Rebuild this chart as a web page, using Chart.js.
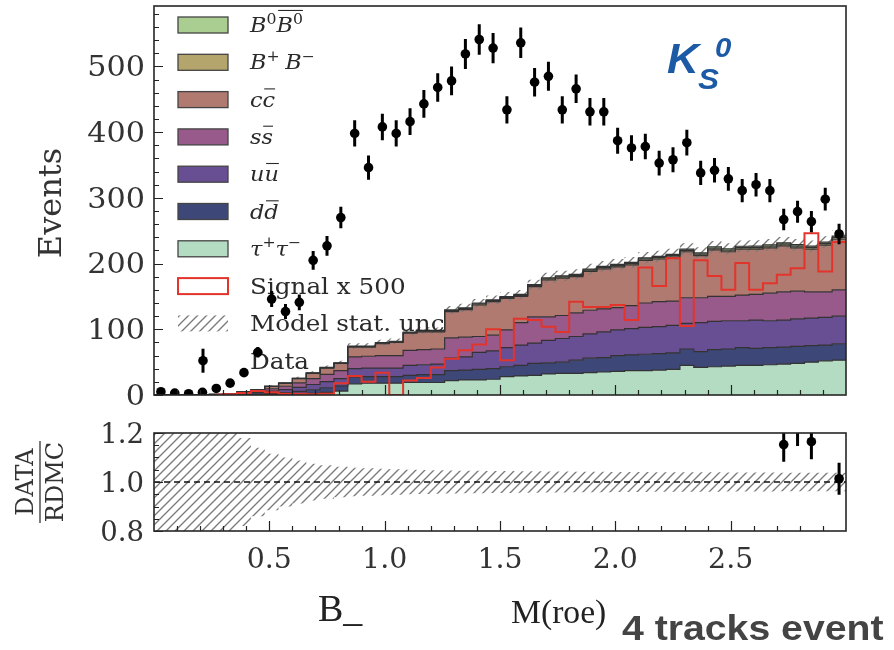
<!DOCTYPE html>
<html>
<head>
<meta charset="utf-8">
<title>M(roe) – 4 tracks event</title>
<script src="https://cdn.jsdelivr.net/npm/chart.js@4.4.1/dist/chart.umd.min.js"></script>
<style>
  html, body { margin: 0; padding: 0; background: #ffffff; }
  #wrap { position: relative; width: 894px; height: 650px; overflow: hidden; background: #ffffff; }
  canvas { position: absolute; left: 0; }
  #main { top: 0; width: 894px; height: 420px; }
  #ratio { top: 400px; width: 894px; height: 250px; }
</style>
</head>
<body>
<div id="wrap">
  <canvas id="main" width="894" height="420"></canvas>
  <canvas id="ratio" width="894" height="250"></canvas>
</div>
<script>
// ---------------- data ----------------
// bin centres of M(roe), 50 bins of width 0.06 on [0, 3]
const binCenters = [0.03,0.09,0.15,0.21,0.27,0.33,0.39,0.45,0.51,0.57,
                    0.63,0.69,0.75,0.81,0.87,0.93,0.99,1.05,1.11,1.17,
                    1.23,1.29,1.35,1.41,1.47,1.53,1.59,1.65,1.71,1.77,
                    1.83,1.89,1.95,2.01,2.07,2.13,2.19,2.25,2.31,2.37,
                    2.43,2.49,2.55,2.61,2.67,2.73,2.79,2.85,2.91,2.97];
const xRange = [0, 3];

// stacked MC components (events per bin), bottom to top
const tauTau = [0,0,0,0,0,0,0,0.2,0.5,0.8, 1.5,2.5,4,6,17,18,18,18,19,19,
                19,22,23,23,24,28,29,30,32,33, 33,34,35,36,37,37,38,39,45,42,
                43,44,45,45,46,47,48,50,52,53];
const dDbar  = [0,0,0,0,0,0.3,0.8,1.3,2,3, 4,5.5,7,8,10,10,10,10,11,12,
                12,15,15,16,16,15,16,18,17,17, 20,22,22,24,24,25,25,25,25,24,
                26,26,27,26,26,26,26,25,24,25];
const uUbar  = [0,0,0,0,0.2,0.5,1.2,2,3.5,4.5, 6,8,9.5,11,13,13,13,13,15,15,
                16,19,20,26,27,29,31,31,34,36, 36,37,39,39,40,41,41,42,39,44,
                43,43,41,43,41,41,42,42,42,42];
const sSbar  = [0,0,0,0,0.3,0.6,1.5,2.3,3.5,5, 7,9,11,12,18,18,19,19,23,23,
                23,31,30,24,24,27,34,40,36,35, 36,36,35,34,35,37,38,37,39,38,
                38,37,39,39,42,43,42,40,39,40];
const cCbar  = [0,0,0,0,0.5,0.6,1.5,2.2,3.5,4.7, 6.5,8,9.5,11,15,14,18,20,26,27,
                26,40,42,48,51,48,40,46,56,57, 55,59,61,62,62,65,65,67,70,64,
                71,68,70,69,69,70,66,65,71,77];
const bPlusMinus = [0,0,0,0,0,0,0,0,0,0, 0.3,0.4,0.5,0.6,0.8,0.8,1.0,1.0,1.0,1.2,
                    1.2,1.3,1.4,1.5,1.5,1.6,1.6,1.7,1.8,1.8, 1.9,2.0,2.0,2.0,2.1,2.1,2.2,2.2,2.2,2.3,
                    2.3,2.3,2.4,2.4,2.4,2.5,2.5,2.5,2.5,2.6];
const bZeroBar   = [0,0,0,0,0,0,0,0,0,0, 0.2,0.3,0.4,0.5,0.6,0.7,0.8,0.8,0.9,1.0,
                    1.0,1.1,1.2,1.2,1.3,1.3,1.4,1.4,1.5,1.5, 1.6,1.6,1.7,1.7,1.8,1.8,1.8,1.9,1.9,1.9,
                    2.0,2.0,2.0,2.1,2.1,2.1,2.2,2.2,2.2,2.2];

// relative MC statistical uncertainty per bin
const mcRelUnc = [0.5,0.5,0.5,0.5,0.5,0.22,0.18,0.14,0.115,0.1,
                  0.088,0.075,0.068,0.062,0.058,0.056,0.054,0.052,0.05,0.049,
                  0.048,0.047,0.046,0.046,0.045,0.045,0.044,0.044,0.043,0.043,
                  0.042,0.042,0.042,0.041,0.041,0.041,0.04,0.04,0.04,0.04,
                  0.04,0.039,0.039,0.039,0.039,0.038,0.038,0.038,0.038,0.038];

// signal (scaled x500), outline only
const signalX500 = [null,null,null,null,0.5,1,3,6,4,2, 2,1,2,18,29,20,34,0,22,26,
                    42,55,68,77,100,53,116,114,104,96, 142,134,134,137,114,194,166,208,105,205,
                    181,160,201,160,170,183,193,246,188,233];

// observed data and its uncertainty
const dataCounts = [5,3,2,4,10,18,34,65,146,127, 141,205,227,270,398,346,408,398,416,443,
                    468,478,519,541,528,434,536,476,485,434, 466,431,431,387,376,378,353,358,384,338,
                    342,329,311,320,311,267,279,264,298,245];
const dataErr    = [2.2,1.7,1.4,2,3.2,4.2,5.8,8.1,12.1,11.3, 11.9,14.3,15.1,16.4,20,18.6,20.2,20,20.4,21,
                    21.6,21.9,22.8,23.3,23,20.8,23.2,21.8,22,20.8, 21.6,20.8,20.8,19.7,19.4,19.4,18.8,18.9,19.6,18.4,
                    18.5,18.1,17.6,17.9,17.6,16.3,16.7,16.2,17.3,15.7];

// axis ticks
const eventTicks = [0, 100, 200, 300, 400, 500];
const ratioTicks = [0.8, 1.0, 1.2];
const ratioTickLabels = ['0.8', '1.0', '1.2'];
const massTicks = [0.5, 1.0, 1.5, 2.0, 2.5];
const massTickLabels = ['0.5', '1.0', '1.5', '2.0', '2.5'];

// ---------------- styling ----------------
const COLORS = {
  tau: '#b4dcc3', dd: '#3e4878', uu: '#684e92', ss: '#985a8a',
  cc: '#b07a70', bpm: '#b4a56c', b0: '#aacd91', signal: '#e3342c', edge: '#333333'
};
const SERIF = '"DejaVu Serif", serif';
const TEXT_SX = 1.12;      // horizontal text stretch
const TEXT_COLOR = '#2a2a2a';

function makeHatch(color, s, lw) {
  const c = document.createElement('canvas');
  c.width = s; c.height = s;
  const g = c.getContext('2d');
  g.strokeStyle = color; g.lineWidth = lw; g.lineCap = 'square';
  g.beginPath();
  g.moveTo(0, s); g.lineTo(s, 0);
  g.moveTo(-1, 1); g.lineTo(1, -1);
  g.moveTo(s - 1, s + 1); g.lineTo(s + 1, s - 1);
  g.stroke();
  return g.createPattern(c, 'repeat');
}
const HATCH = makeHatch('#7a7a7a', 9, 1.35);

// histogram outline points (step drawn through bin centres, padded to the axis edges)
function stepPoints(vals) {
  const pts = [{ x: xRange[0], y: vals[0] }];
  vals.forEach((v, i) => pts.push({ x: binCenters[i], y: v }));
  pts.push({ x: xRange[1], y: vals[vals.length - 1] });
  return pts;
}

// cumulative stack
const layers = [tauTau, dDbar, uUbar, sSbar, cCbar, bPlusMinus, bZeroBar];
const cumul = [];
let running = binCenters.map(() => 0);
layers.forEach(arr => { running = running.map((v, i) => v + arr[i]); cumul.push(running.slice()); });
const mcTotal = cumul[cumul.length - 1];
const uncHigh = mcTotal.map((t, i) => t * (1 + mcRelUnc[i]));
const uncLow  = mcTotal.map((t, i) => t * (1 - mcRelUnc[i]));

const ratioVals = dataCounts.map((d, i) => mcTotal[i] > 0 ? d / mcTotal[i] : null);
const ratioErr  = dataErr.map((e, i) => mcTotal[i] > 0 ? e / mcTotal[i] : null);

// ---------------- text helpers ----------------
function sText(ctx, str, x, y, font, color, align, sx) {
  ctx.save();
  ctx.translate(x, y);
  ctx.scale(sx || TEXT_SX, 1);
  ctx.font = font; ctx.fillStyle = color || TEXT_COLOR;
  ctx.textAlign = align || 'left'; ctx.textBaseline = 'alphabetic';
  ctx.fillText(str, 0, 0);
  ctx.restore();
}

function drawRich(ctx, parts, x, base, size) {
  ctx.save();
  ctx.translate(x, base); ctx.scale(TEXT_SX, 1);
  ctx.fillStyle = TEXT_COLOR; ctx.strokeStyle = TEXT_COLOR;
  ctx.textBaseline = 'alphabetic'; ctx.textAlign = 'left';
  let cx = 0, barL = null, barR = 0, barTop = 0;
  for (const p of parts) {
    const small = p.sup || p.sub;
    const fs = small ? size * 0.7 : size;
    ctx.font = (p.it ? 'italic ' : '') + fs + 'px ' + SERIF;
    const dy = p.sup ? -size * 0.42 : (p.sub ? size * 0.22 : 0);
    ctx.fillText(p.t, cx, dy);
    const w = ctx.measureText(p.t).width;
    if (p.bar) {
      if (barL === null) barL = cx;
      barR = cx + w;
      barTop = Math.min(barTop, dy - fs * 0.76);
    }
    cx += w + (p.gap || 0);
  }
  if (barL !== null) {
    ctx.lineWidth = 1.1;
    ctx.beginPath(); ctx.moveTo(barL + 1.5, barTop - 2.5); ctx.lineTo(barR, barTop - 2.5); ctx.stroke();
  }
  ctx.restore();
}

// ---------------- legend ----------------
const legendEntries = [
  { kind: 'patch', color: COLORS.b0,  parts: [{t:'B',it:1},{t:'0',sup:1},{t:'B',it:1,bar:1},{t:'0',sup:1,bar:1}] },
  { kind: 'patch', color: COLORS.bpm, parts: [{t:'B',it:1},{t:'+',sup:1,gap:5},{t:'B',it:1},{t:'\u2212',sup:1}] },
  { kind: 'patch', color: COLORS.cc,  parts: [{t:'c',it:1},{t:'c',it:1,bar:1}] },
  { kind: 'patch', color: COLORS.ss,  parts: [{t:'s',it:1},{t:'s',it:1,bar:1}] },
  { kind: 'patch', color: COLORS.uu,  parts: [{t:'u',it:1},{t:'u',it:1,bar:1}] },
  { kind: 'patch', color: COLORS.dd,  parts: [{t:'d',it:1},{t:'d',it:1,bar:1}] },
  { kind: 'patch', color: COLORS.tau, parts: [{t:'\u03c4',it:1},{t:'+',sup:1},{t:'\u03c4',it:1},{t:'\u2212',sup:1}] },
  { kind: 'signal', text: 'Signal x 500' },
  { kind: 'hatch',  text: 'Model stat. unc' },
  { kind: 'data',   text: 'Data' }
];

function drawLegend(ctx) {
  const x0 = 178, w = 50, h = 16, tx = 250, top = 25, step = 37.3;
  legendEntries.forEach((e, k) => {
    const cy = top + k * step;
    ctx.save();
    if (e.kind === 'patch') {
      ctx.fillStyle = e.color; ctx.fillRect(x0, cy - h / 2, w, h);
      ctx.strokeStyle = '#444'; ctx.lineWidth = 1.3; ctx.strokeRect(x0, cy - h / 2, w, h);
      ctx.restore();
      drawRich(ctx, e.parts, tx, cy + 7, 20);
      return;
    }
    if (e.kind === 'signal') {
      ctx.fillStyle = '#fff'; ctx.fillRect(x0, cy - h / 2, w, h);
      ctx.strokeStyle = COLORS.signal; ctx.lineWidth = 2; ctx.strokeRect(x0, cy - h / 2, w, h);
    } else if (e.kind === 'hatch') {
      ctx.fillStyle = HATCH; ctx.fillRect(x0, cy - h / 2, w, h);
    } else if (e.kind === 'data') {
      ctx.strokeStyle = '#000'; ctx.lineWidth = 3;
      ctx.beginPath(); ctx.moveTo(x0 + w / 2, cy - 12); ctx.lineTo(x0 + w / 2, cy + 12); ctx.stroke();
      ctx.fillStyle = '#000'; ctx.beginPath(); ctx.arc(x0 + w / 2, cy, 4.8, 0, Math.PI * 2); ctx.fill();
    }
    ctx.restore();
    sText(ctx, e.text, tx, cy + 8, '22px ' + SERIF, TEXT_COLOR);
  });
}

// ---------------- axes decoration ----------------
function drawFrameAndTicks(ctx, a, xs, ys, yMajor, yMinorStep, yMin, yMax) {
  ctx.save();
  ctx.strokeStyle = '#222'; ctx.lineWidth = 1.2;
  ctx.beginPath();
  for (let k = 1; k < 30; k++) {
    const v = k / 10;
    const px = Math.round(xs.getPixelForValue(v)) + 0.5;
    const len = (k % 5 === 0) ? 10 : 5;
    ctx.moveTo(px, a.bottom); ctx.lineTo(px, a.bottom - len);
  }
  const n = Math.round((yMax - yMin) / yMinorStep);
  for (let k = 0; k <= n; k++) {
    const v = yMin + k * yMinorStep;
    const py = Math.round(ys.getPixelForValue(v)) + 0.5;
    const major = yMajor.some(t => Math.abs(t - v) < 1e-6);
    const len = major ? 9 : 5;
    ctx.moveTo(a.left, py); ctx.lineTo(a.left + len, py);
  }
  ctx.stroke();
  ctx.strokeStyle = '#262626'; ctx.lineWidth = 1.6;
  ctx.strokeRect(a.left, a.top, a.right - a.left, a.bottom - a.top);
  ctx.restore();
}

function drawErrorBars(ctx, a, xs, ys, vals, errs) {
  ctx.save();
  ctx.beginPath(); ctx.rect(a.left, a.top, a.right - a.left, a.bottom - a.top); ctx.clip();
  ctx.strokeStyle = '#000'; ctx.lineWidth = 3;
  ctx.beginPath();
  vals.forEach((v, i) => {
    if (v === null) return;
    const px = xs.getPixelForValue(binCenters[i]);
    ctx.moveTo(px, ys.getPixelForValue(v - errs[i]));
    ctx.lineTo(px, ys.getPixelForValue(v + errs[i]));
  });
  ctx.stroke();
  ctx.restore();
}

const mainDecor = {
  id: 'mainDecor',
  beforeDatasetDraw(chart, args) {
    if (args.index === 0) drawLegend(chart.ctx);
  },
  afterDatasetsDraw(chart) {
    const { ctx, chartArea: a, scales: { x, y } } = chart;
    drawErrorBars(ctx, a, x, y, dataCounts, dataErr);
  },
  afterDraw(chart) {
    const { ctx, chartArea: a, scales: { x, y } } = chart;
    drawFrameAndTicks(ctx, a, x, y, eventTicks, 20, 0, 580);
    const fs = 27;
    eventTicks.forEach(v => {
      sText(ctx, String(v), 145, y.getPixelForValue(v) + fs * 0.365, fs + 'px ' + SERIF, '#333', 'right');
    });
    // y title
    ctx.save();
    ctx.translate(61, 203); ctx.rotate(-Math.PI / 2);
    ctx.font = '32px ' + SERIF; ctx.fillStyle = '#333'; ctx.textAlign = 'center'; ctx.textBaseline = 'alphabetic';
    ctx.fillText('Events', 0, 0);
    ctx.restore();
    // K_S^0 tag
    const blue = '#1c5aa5';
    sText(ctx, 'K', 667, 73, 'italic bold 42px "Liberation Sans", Arial, sans-serif', blue, 'left', 1.05);
    sText(ctx, 'S', 698, 89, 'italic bold 30px "Liberation Sans", Arial, sans-serif', blue, 'left', 1.05);
    sText(ctx, '0', 715, 57, 'italic bold 28px "Liberation Sans", Arial, sans-serif', blue, 'left', 1.05);
  }
};

const ratioDecor = {
  id: 'ratioDecor',
  afterDatasetsDraw(chart) {
    const { ctx, chartArea: a, scales: { x, y } } = chart;
    drawErrorBars(ctx, a, x, y, ratioVals, ratioErr);
  },
  afterDraw(chart) {
    const { ctx, chartArea: a, scales: { x, y } } = chart;
    drawFrameAndTicks(ctx, a, x, y, ratioTicks, 0.05, 0.8, 1.2);
    const fs = 27;
    ratioTicks.forEach((v, i) => {
      sText(ctx, ratioTickLabels[i], 144, y.getPixelForValue(v) + fs * 0.365, fs + 'px ' + SERIF, '#333', 'right', 1.02);
    });
    massTicks.forEach((v, i) => {
      sText(ctx, massTickLabels[i], x.getPixelForValue(v), 158 + fs * 0.365, fs + 'px ' + SERIF, '#333', 'center', 1.05);
    });
    // ratio title as a fraction
    ctx.save();
    ctx.translate(0, 82); ctx.rotate(-Math.PI / 2);
    ctx.font = '24px ' + SERIF; ctx.fillStyle = '#333'; ctx.textAlign = 'center'; ctx.textBaseline = 'alphabetic';
    ctx.fillText('DATA', 0, 33);
    ctx.fillText('RDMC', 0, 63);
    ctx.strokeStyle = '#333'; ctx.lineWidth = 1.3;
    ctx.beginPath(); ctx.moveTo(-41, 40); ctx.lineTo(41, 40); ctx.stroke();
    ctx.restore();
    // axis captions below
    sText(ctx, 'B_', 318, 221, '38px "Liberation Serif", "Times New Roman", serif', '#222', 'left', 1.0);
    sText(ctx, 'M(roe)', 511, 223, '33px "Liberation Serif", "Times New Roman", serif', '#222', 'left', 1.02);
    sText(ctx, '4 tracks event', 622, 240, 'bold 35px "Liberation Sans", Arial, sans-serif', '#444', 'left', 1.12);
  }
};

// ---------------- main panel ----------------
const lineBase = { pointRadius: 0, stepped: 'middle', tension: 0 };
const stackDefs = [
  { label: 'B0B0', idx: 6, color: COLORS.b0 },
  { label: 'B+B-', idx: 5, color: COLORS.bpm },
  { label: 'ccbar', idx: 4, color: COLORS.cc },
  { label: 'ssbar', idx: 3, color: COLORS.ss },
  { label: 'uubar', idx: 2, color: COLORS.uu },
  { label: 'ddbar', idx: 1, color: COLORS.dd },
  { label: 'tautau', idx: 0, color: COLORS.tau }
];

const mainDatasets = [
  { label: 'Data', data: dataCounts.map((v, i) => ({ x: binCenters[i], y: v })),
    showLine: false, pointRadius: 4.8, pointBackgroundColor: '#000', pointBorderColor: '#000', pointBorderWidth: 0 },
  Object.assign({ label: 'Signal x 500', data: stepPoints(signalX500), borderColor: COLORS.signal,
    borderWidth: 2, fill: false, spanGaps: false }, lineBase),
  Object.assign({ label: 'unc high', data: stepPoints(uncHigh), borderWidth: 0, borderColor: 'rgba(0,0,0,0)',
    backgroundColor: HATCH, fill: '+1' }, lineBase),
  Object.assign({ label: 'unc low', data: stepPoints(uncLow), borderWidth: 0, borderColor: 'rgba(0,0,0,0)',
    fill: false }, lineBase)
];
stackDefs.forEach(d => {
  mainDatasets.push(Object.assign({
    label: d.label, data: stepPoints(cumul[d.idx]), borderColor: COLORS.edge, borderWidth: 1.2,
    backgroundColor: d.color, fill: d.idx === 0 ? 'origin' : '+1'
  }, lineBase));
});

new Chart(document.getElementById('main'), {
  type: 'line',
  data: { datasets: mainDatasets },
  options: {
    responsive: false, animation: false, events: [],
    layout: { padding: { left: 154, right: 48, top: 6, bottom: 25 } },
    scales: {
      x: { type: 'linear', min: xRange[0], max: xRange[1], display: false },
      y: { type: 'linear', min: 0, max: 592, display: false }
    },
    plugins: { legend: { display: false }, tooltip: { enabled: false },
               filler: { drawTime: 'beforeDatasetsDraw', propagate: false } }
  },
  plugins: [mainDecor]
});

// ---------------- ratio panel ----------------
const ratioDatasets = [
  { label: 'ratio', data: ratioVals.map((v, i) => ({ x: binCenters[i], y: v })),
    showLine: false, pointRadius: 4.8, pointBackgroundColor: '#000', pointBorderWidth: 0 },
  { label: 'unity', data: [{ x: xRange[0], y: 1 }, { x: xRange[1], y: 1 }], borderColor: '#111',
    borderWidth: 1.6, borderDash: [6, 4], pointRadius: 0, fill: false },
  Object.assign({ label: 'unc high', data: stepPoints(mcRelUnc.map(u => 1 + u)), borderWidth: 0,
    borderColor: 'rgba(0,0,0,0)', backgroundColor: HATCH, fill: '+1' }, lineBase),
  Object.assign({ label: 'unc low', data: stepPoints(mcRelUnc.map(u => 1 - u)), borderWidth: 0,
    borderColor: 'rgba(0,0,0,0)', fill: false }, lineBase)
];

new Chart(document.getElementById('ratio'), {
  type: 'line',
  data: { datasets: ratioDatasets },
  options: {
    responsive: false, animation: false, events: [],
    layout: { padding: { left: 154, right: 48, top: 33, bottom: 119 } },
    scales: {
      x: { type: 'linear', min: xRange[0], max: xRange[1], display: false },
      y: { type: 'linear', min: 0.8, max: 1.2, display: false }
    },
    plugins: { legend: { display: false }, tooltip: { enabled: false },
               filler: { drawTime: 'beforeDatasetsDraw', propagate: false } }
  },
  plugins: [ratioDecor]
});
</script>
</body>
</html>
